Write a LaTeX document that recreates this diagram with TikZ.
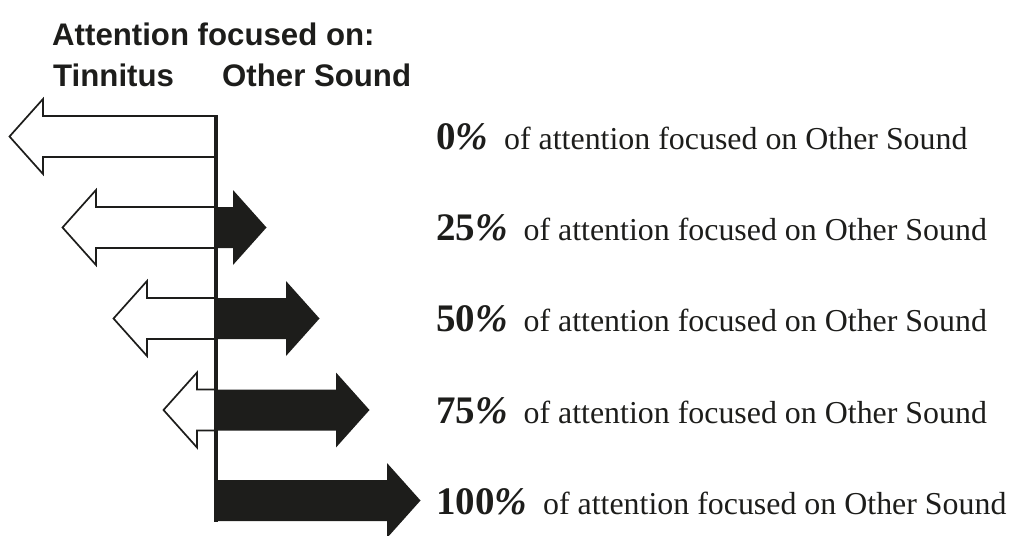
\documentclass[tikz,border=0pt]{standalone}
\usepackage{fontspec}
\setmainfont{Liberation Serif}
\newfontfamily\headsans{Liberation Sans}
\definecolor{ink}{RGB}{29,29,27}
% tinnitus arrow (white, to the left): #1 = centre y, #2 = x where the head starts
\newcommand{\tinarrow}[2]{%
  \filldraw[tinarr] (216,#1-20.5) -- (#2,#1-20.5) -- (#2,#1-37.5) -- (#2-33.5,#1)
    -- (#2,#1+37.5) -- (#2,#1+20.5) -- (216,#1+20.5);}
% other sound arrow (black, to the right)
\newcommand{\otharrow}[2]{%
  \fill[otharr] (216,#1-20.5) -- (#2,#1-20.5) -- (#2,#1-37.5) -- (#2+33.5,#1)
    -- (#2,#1+37.5) -- (#2,#1+20.5) -- (216,#1+20.5) -- cycle;}
\newcommand{\pct}[1]{{\fontsize{39}{40}\selectfont\bfseries #1{\itshape\%}}\hspace{8pt}}

\begin{document}
\begin{tikzpicture}[x=1pt,y=-1pt]
  \tikzstyle{tinarr}=[fill=white,draw=ink,line width=1.7pt,line join=miter]
  \tikzstyle{otharr}=[fill=ink]
  \tikzstyle{head}=[anchor=base west,inner sep=0pt,text=ink,font=\headsans\bfseries\fontsize{31.2}{34}\selectfont]
  \tikzstyle{pctlabel}=[anchor=base west,inner sep=0pt,text=ink,font=\fontsize{31.9}{36}\selectfont]
  \useasboundingbox (0,0) rectangle (1011,535);

  \node[head] (title) at (52,45.5) {Attention focused on:};
  \node[head] (tinnitus) at (53,86.5) {Tinnitus};
  \node[head] (other) at (222,86.5) {Other Sound};

  % 0%
  \tinarrow{136.5}{43}
  % 25%
  \tinarrow{227.5}{96}
  \otharrow{227.5}{233}
  % 50%
  \tinarrow{318.5}{147}
  \otharrow{318.5}{286}
  % 75%
  \tinarrow{410}{197}
  \otharrow{410}{336}
  % 100%
  \otharrow{500.5}{387}

  \coordinate (top) at (216,115);
  \coordinate (bot) at (216,522);
  \draw[ink,line width=4.5pt] (top) -- (bot);

  \node[pctlabel] (p0) at (436,149.5) {\pct{0} of attention focused on Other Sound};
  \node[pctlabel] (p25) at (436,240.5) {\pct{25} of attention focused on Other Sound};
  \node[pctlabel] (p50) at (436,331.5) {\pct{50} of attention focused on Other Sound};
  \node[pctlabel] (p75) at (436,423) {\pct{75} of attention focused on Other Sound};
  \node[pctlabel] (p100) at (436,514) {\pct{100} of attention focused on Other Sound};
\end{tikzpicture}
\end{document}
